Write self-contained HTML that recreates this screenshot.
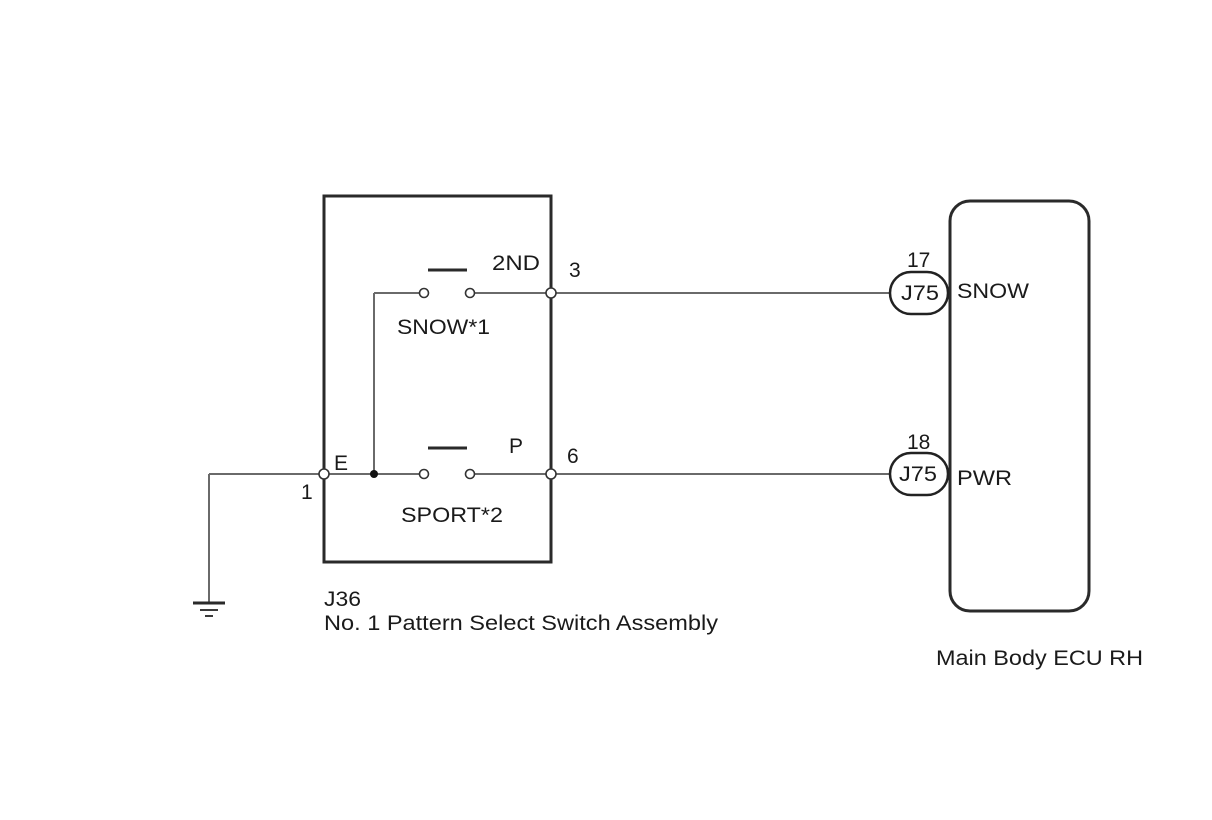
<!DOCTYPE html>
<html><head><style>
html,body{margin:0;padding:0;background:#fff;}
svg{display:block;}
text{font-family:"Liberation Sans",Arial,sans-serif;font-size:21px;fill:#1a1a1a;}
</style></head><body>
<svg width="1212" height="820" viewBox="0 0 1212 820">
<g fill="none" stroke="#6a6a6a" stroke-width="2">
<line x1="209" y1="474" x2="320" y2="474"/>
<line x1="209" y1="474" x2="209" y2="603"/>
<line x1="328" y1="474" x2="420" y2="474"/>
<line x1="374" y1="293" x2="374" y2="474"/>
<line x1="374" y1="293" x2="420" y2="293"/>
<line x1="474" y1="293" x2="890" y2="293"/>
<line x1="474" y1="474" x2="890" y2="474"/>
</g>
<rect x="324" y="196" width="227" height="366" fill="none" stroke="#2a2a2a" stroke-width="3"/>
<rect x="950" y="201" width="139" height="410" rx="20" fill="none" stroke="#2a2a2a" stroke-width="3"/>
<g stroke="#2a2a2a" stroke-width="3">
<line x1="428" y1="270" x2="467" y2="270"/>
<line x1="428" y1="448" x2="467" y2="448"/>
<line x1="193" y1="603" x2="225" y2="603"/>
</g>
<g stroke="#3a3a3a" stroke-width="2">
<line x1="200" y1="610" x2="218" y2="610"/>
<line x1="205" y1="616" x2="213" y2="616"/>
</g>
<g fill="#fff" stroke="#333" stroke-width="1.6">
<circle cx="424" cy="293" r="4.5"/><circle cx="470" cy="293" r="4.5"/>
<circle cx="424" cy="474" r="4.5"/><circle cx="470" cy="474" r="4.5"/>
<circle cx="551" cy="293" r="5"/><circle cx="551" cy="474" r="5"/>
<circle cx="324" cy="474" r="5"/>
</g>
<circle cx="374" cy="474" r="4" fill="#111"/>
<rect x="890" y="272" width="58" height="42" rx="21" fill="#fff" stroke="#222" stroke-width="2.5"/>
<rect x="890" y="453" width="58" height="42" rx="21" fill="#fff" stroke="#222" stroke-width="2.5"/>
<text x="492" y="270" textLength="48" lengthAdjust="spacingAndGlyphs">2ND</text>
<text x="569" y="277">3</text>
<text x="397" y="334" textLength="93" lengthAdjust="spacingAndGlyphs">SNOW*1</text>
<text x="509" y="453">P</text>
<text x="567" y="463">6</text>
<text x="334" y="470">E</text>
<text x="301" y="499">1</text>
<text x="401" y="522" textLength="102" lengthAdjust="spacingAndGlyphs">SPORT*2</text>
<text x="324" y="606" textLength="37" lengthAdjust="spacingAndGlyphs">J36</text>
<text x="324" y="630" textLength="394" lengthAdjust="spacingAndGlyphs">No. 1 Pattern Select Switch Assembly</text>
<text x="907" y="267">17</text>
<text x="907" y="449">18</text>
<text x="901" y="300" textLength="38" lengthAdjust="spacingAndGlyphs">J75</text>
<text x="899" y="481" textLength="38" lengthAdjust="spacingAndGlyphs">J75</text>
<text x="957" y="298" textLength="72" lengthAdjust="spacingAndGlyphs">SNOW</text>
<text x="957" y="485" textLength="55" lengthAdjust="spacingAndGlyphs">PWR</text>
<text x="936" y="665" textLength="207" lengthAdjust="spacingAndGlyphs">Main Body ECU RH</text>
</svg>
</body></html>
